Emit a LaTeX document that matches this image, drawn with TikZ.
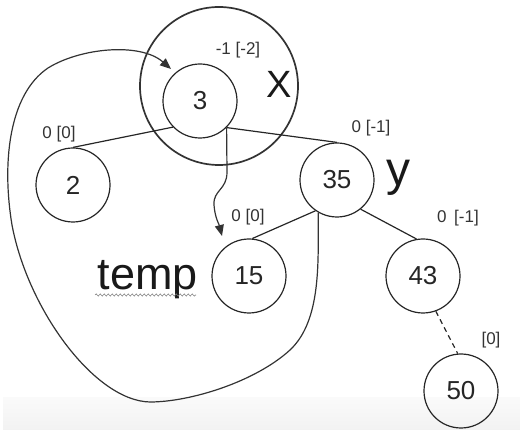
\documentclass[tikz,border=0pt]{standalone}
\usepackage{fontspec}
\setmainfont{Liberation Sans}
\usetikzlibrary{arrows.meta,decorations.pathmorphing}
\tikzset{
  bnode/.style={draw=black!85, circle, minimum size=74pt, inner sep=0pt, line width=1.2pt, font=\fontsize{26}{26}\selectfont, text=black!85},
  ring/.style={draw=black!80, circle, minimum size=158pt, inner sep=0pt, line width=1.7pt},
  edge/.style={draw=black!85, line width=1.2pt},
  bal/.style={font=\fontsize{17}{17}\selectfont, text=black!80, inner sep=0pt},
  big/.style={font=\fontsize{42}{42}\selectfont, text=black!90, inner sep=0pt},
  curvy/.style={draw=black!80, line width=1.2pt, -{Triangle[length=11pt,width=9pt]}},
}
\begin{document}
\begin{tikzpicture}[x=1pt,y=-1pt]
\useasboundingbox (0,0) rectangle (520,430);
\shade[top color=black!2, bottom color=black!5] (3,398) rectangle (520,430);
% nodes
\node[ring] (xring) at (219,86) {};
\node[bnode] (n3) at (200,101) {3};
\node[bnode] (n2) at (73,185) {2};
\node[bnode] (n35) at (337,180) {35};
\node[bnode] (n15) at (249,276) {15};
\node[bnode] (n43) at (423,276) {43};
\node[bnode] (n50) at (461,391) {50};
% labels
\node[bal] (l3) at (238,50) {-1 [-2]};
\node[bal] (l2) at (59,134) {0 [0]};
\node[bal] (l35) at (371,128) {0 [-1]};
\node[bal] (l15) at (248,217) {0 [0]};
\node[bal] (l43) at (458,218) {0 \,[-1]};
\node[bal] (l50) at (491,340) {[0]};
\node[big, font=\fontsize{38}{38}\selectfont] (lx) at (279,84) {X};
\node[big, font=\fontsize{48}{48}\selectfont] (ly) at (398,178) {y};
\node[big, font=\fontsize{45}{45}\selectfont, anchor=base] (ltemp) at (148,290) {temp};
\draw[black!50, line width=0.6pt, decoration={snake, amplitude=1.1pt, segment length=4pt}, decorate] (95,295) -- (196,295);
% edges
\draw[edge] (n3.224) -- (n2.north);
\draw[edge] (n3.315) -- (n35.north);
\draw[edge] (n35.235) -- (n15.85);
\draw[edge] (n35.309) -- (n43.100);
\draw[edge, dashed, dash pattern=on 5pt off 4pt] (n43.290) -- (n50.95);
% curvy arrow from 3 to 15
\draw[curvy] (n3.315) -- (227,172) .. controls (227,190) and (213,190) .. (214,205)
  .. controls (215,218) and (219,224) .. (222,236);
% big loop from 35 back to x
\draw[curvy] (n35.240) .. controls (318,260) and (322,320) .. (290,350)
  .. controls (255,382) and (190,402) .. (150,402)
  .. controls (95,401) and (28,310) .. (12,225)
  .. controls (2,165) and (8,95) .. (48,68)
  .. controls (80,48) and (140,42) .. (171,69);
\end{tikzpicture}
\end{document}
